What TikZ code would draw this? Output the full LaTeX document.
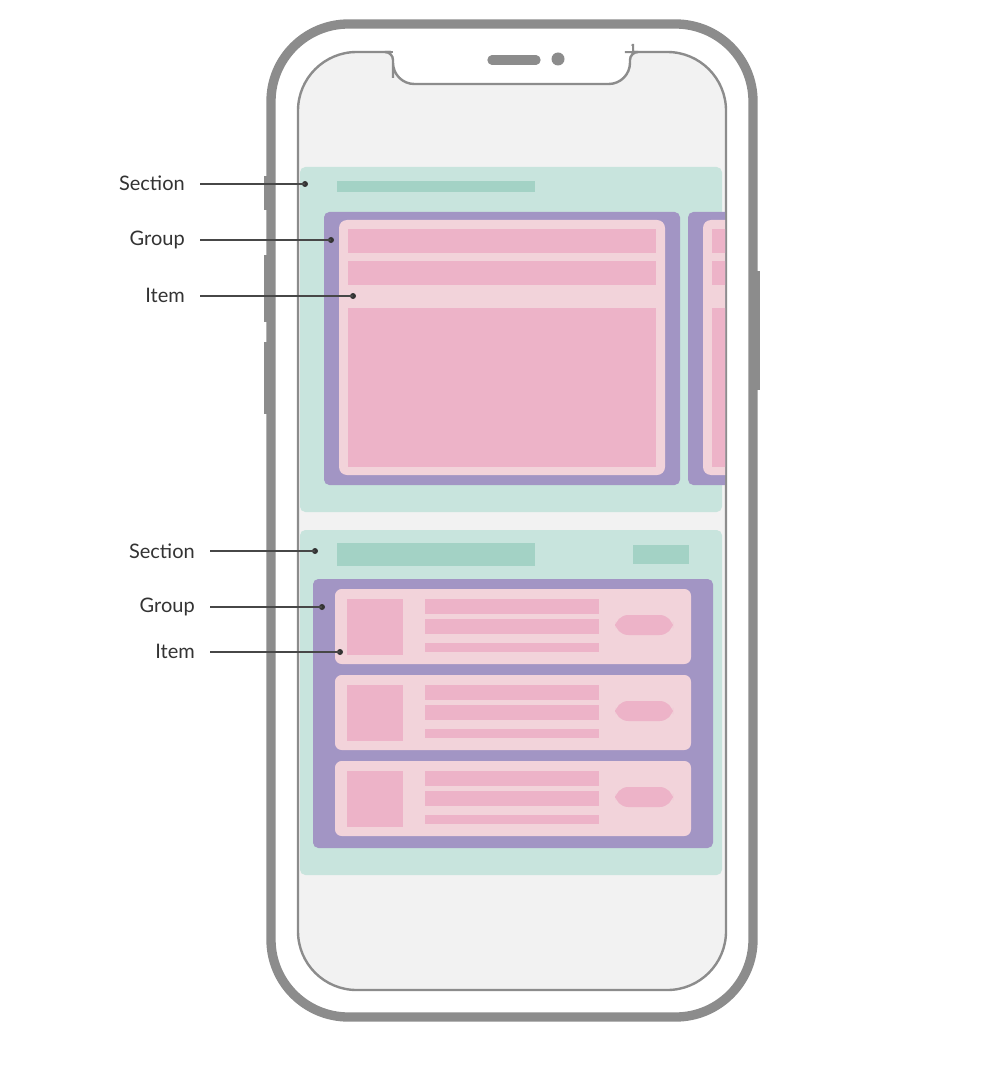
\documentclass[tikz,border=0pt]{standalone}
\usepackage{fontspec}
\setmainfont{Lato}
\definecolor{frame}{HTML}{8C8C8C}
\definecolor{screen}{HTML}{F2F2F2}
\definecolor{sect}{HTML}{C8E4DD}
\definecolor{sectbar}{HTML}{A3D2C5}
\definecolor{grp}{HTML}{A295C4}
\definecolor{itm}{HTML}{F2D3DA}
\definecolor{bar}{HTML}{EDB3C8}
\definecolor{txt}{HTML}{333333}
\begin{document}
\begin{tikzpicture}[x=0.75pt,y=-0.75pt,
  lbl/.style={anchor=east,text=txt,font=\fontsize{15}{18}\selectfont,inner sep=0pt},
  lead/.style={draw=txt!90,line width=1.2pt},
  dotc/.style={circle,fill=txt,inner sep=0pt,minimum size=4.5pt}]
\useasboundingbox (0,0) rectangle (982,1066);
% side buttons
\fill[frame] (264,176) rectangle (271,210);
\fill[frame] (264,255) rectangle (271,322);
\fill[frame] (264,342) rectangle (271,414);
\fill[frame] (753,271) rectangle (760,390);
% body
\draw[frame,line width=7pt,fill=white,rounded corners=58] (271,24) rectangle (753,1017);
\draw[frame,line width=1.8pt,fill=screen,rounded corners=44]
  (298,52) rectangle (726,990);
% notch
\draw[frame,line width=1.8pt,fill=white]
  (390,51) -- (390,52) [rounded corners=6]-- (393,52) -- (393,70) [rounded corners=16]-- (393,84) -- (630,84) [rounded corners=6]-- (630,52) -- (633,52) -- (633,51);
\fill[white] (391,46) rectangle (632,51.5);
\draw[frame,line width=1.8pt] (380,52) -- (393,52);
\draw[frame,line width=1.8pt] (630,52) -- (645,52);
\draw[frame,line width=7pt,line cap=round] (492,60) -- (536,60);
\fill[frame] (558,59) circle (6.5);
% top section
\begin{scope}
\clip (300,160) rectangle (725,880);
\fill[sect,rounded corners=4] (300,167) rectangle (722,512);
\fill[sectbar] (337,181) rectangle (535,192);
\foreach \dx in {0,364}{
 \fill[grp,rounded corners=4] (324+\dx,212) rectangle (680+\dx,485);
 \fill[itm,rounded corners=6] (339+\dx,220) rectangle (665+\dx,475);
 \fill[bar] (348+\dx,229) rectangle (656+\dx,253);
 \fill[bar] (348+\dx,261) rectangle (656+\dx,285);
 \fill[bar] (348+\dx,308) rectangle (656+\dx,467);
}
% bottom section
\fill[sect,rounded corners=4] (300,530) rectangle (722,875);
\fill[sectbar] (337,543) rectangle (535,566);
\fill[sectbar] (633,545) rectangle (689,564);
\fill[grp,rounded corners=4] (313,579) rectangle (713,848);
\foreach \dy in {0,86,172}{
 \fill[itm,rounded corners=5] (335,589+\dy) rectangle (691,664+\dy);
 \fill[bar] (347,599+\dy) rectangle (403,655+\dy);
 \fill[bar] (425,599+\dy) rectangle (599,614+\dy);
 \fill[bar] (425,619+\dy) rectangle (599,634+\dy);
 \fill[bar] (425,643+\dy) rectangle (599,652+\dy);
 \fill[bar,rounded corners=10] (615,615+\dy) rectangle (673,635+\dy);
}
\end{scope}
% labels
\node[lbl] (s1) at (185,183) {Section};
\node[lbl] (g1) at (185,240) {Group};
\node[lbl] (i1) at (185,295) {Item};
\node[lbl] (s2) at (195,551) {Section};
\node[lbl] (g2) at (195,607) {Group};
\node[lbl] (i2) at (195,651) {Item};
\node[dotc] (ds1) at (305,184) {};
\node[dotc] (dg1) at (331,240) {};
\node[dotc] (di1) at (353,296) {};
\node[dotc] (ds2) at (315,551) {};
\node[dotc] (dg2) at (322,607) {};
\node[dotc] (di2) at (340,652) {};
\coordinate (a1) at (200,184); \draw[lead] (a1) -- (ds1.center);
\coordinate (a2) at (200,240); \draw[lead] (a2) -- (dg1.center);
\coordinate (a3) at (200,296); \draw[lead] (a3) -- (di1.center);
\coordinate (a4) at (210,551); \draw[lead] (a4) -- (ds2.center);
\coordinate (a5) at (210,607); \draw[lead] (a5) -- (dg2.center);
\coordinate (a6) at (210,652); \draw[lead] (a6) -- (di2.center);
\end{tikzpicture}
\end{document}
